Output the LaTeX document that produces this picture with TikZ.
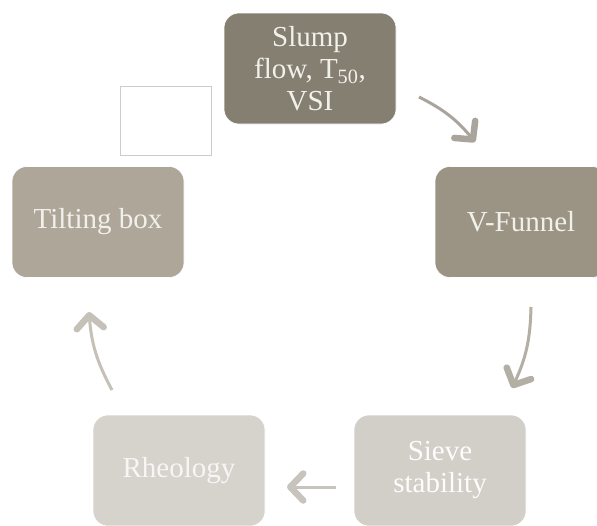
\documentclass[tikz,border=0pt]{standalone}
\usepackage{fontspec}
\setmainfont{Liberation Serif}
\usetikzlibrary{arrows.meta}
\definecolor{topfill}{HTML}{857F71}
\definecolor{vffill}{HTML}{9B9485}
\definecolor{tiltfill}{HTML}{ADA699}
\definecolor{sievefill}{HTML}{D2CEC8}
\definecolor{rheofill}{HTML}{D6D2CC}
\definecolor{paletext}{HTML}{F2F0EB}
\begin{document}
\begin{tikzpicture}[x=1pt,y=-1pt,
  stepbox/.style={rounded corners=15pt,minimum width=172pt,minimum height=111pt,align=center,
    font=\fontsize{29}{32}\selectfont,text=paletext,draw=white,line width=0.6pt},
  flow/.style={line width=3pt,-{Straight Barb[length=13pt,width=27pt,line width=6.5pt 0,round]}}]
  \useasboundingbox (0,0) rectangle (597,525);
  % test steps
  \node[stepbox,fill=topfill] (slump) at (310,68.5) {Slump\\flow, T\textsubscript{50},\\VSI};
  \node[stepbox,fill=vffill] (vfunnel) at (521,222) {V-Funnel};
  \node[stepbox,fill=tiltfill] (tilt) at (98,222) {Tilting box};
  \node[stepbox,fill=sievefill,text=white!95!sievefill] (sieve) at (440,470.5) {Sieve\\stability};
  \node[stepbox,fill=rheofill,text=white!80!rheofill] (rheo) at (179,470.5) {Rheology};
  \node[draw=black!20,fill=white,minimum width=91pt,minimum height=69pt,inner sep=0pt] (blank) at (165.5,120.5) {};
  % arrow ends
  \coordinate (a1) at (419,97);  \coordinate (b1) at (475,142);
  \coordinate (a2) at (531,307); \coordinate (b2) at (512,388);
  \coordinate (a3) at (336,487); \coordinate (b3) at (287,487);
  \coordinate (a4) at (112,390); \coordinate (b4) at (89,312);
  \draw[flow,color=topfill!70!white] (a1) to[bend left=12] (b1);
  \draw[flow,color=vffill!75!white] (a2) to[bend left=12] (b2);
  \draw[flow,color=sievefill!95!black] (a3) -- (b3);
  \draw[flow,color=tiltfill!70!white] (a4) to[bend left=12] (b4);
\end{tikzpicture}
\end{document}
